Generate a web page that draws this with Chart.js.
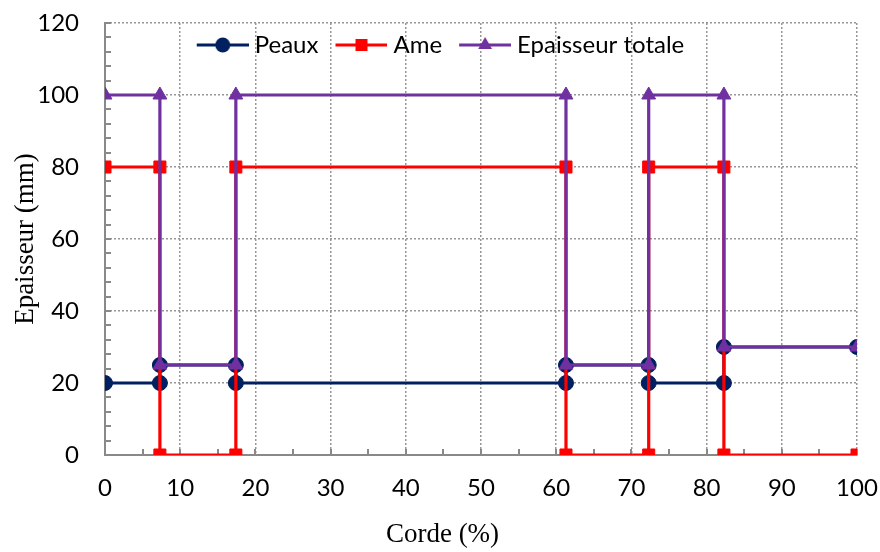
<!DOCTYPE html>
<html lang="fr">
<head>
<meta charset="UTF-8">
<title>Epaisseur le long de la corde</title>
<style>
  html, body { margin: 0; padding: 0; background: #fff; }
  .wrap { position: relative; width: 880px; height: 552px; }
</style>
</head>
<body>
<div class="wrap"><canvas id="chart"></canvas></div>
<script src="https://cdn.jsdelivr.net/npm/chart.js"></script>
<script>
// Données
const corde  = [0, 7.3, 7.3, 17.4, 17.4, 61.3, 61.3, 72.3, 72.3, 82.3, 82.3, 100];
const peaux  = [20, 20, 25, 25, 20, 20, 25, 25, 20, 20, 30, 30];
const ame    = [80, 80, 0, 0, 80, 80, 0, 0, 80, 80, 0, 0];
const totale = [100, 100, 25, 25, 100, 100, 25, 25, 100, 100, 30, 30];
const seriesNames = ['Peaux', 'Ame', 'Epaisseur totale'];

const colors = ['#002060', '#FF0000', '#7030A0'];
const styles = ['circle', 'rect', 'triangle'];
const radii = [7.5, 8.5, 8];

function toPoints(ys) {
  return corde.map((x, i) => ({ x: x, y: ys[i] }));
}

// petit dessin "ligne + marqueur" pour la légende (décalé à droite de 6px)
function legendMark(color, style, r) {
  const c = document.createElement('canvas');
  c.width = 58; c.height = 18;
  const g = c.getContext('2d');
  const cx = 32, cy = 9;
  g.strokeStyle = color; g.fillStyle = color; g.lineWidth = 3;
  g.beginPath(); g.moveTo(6, cy); g.lineTo(58, cy); g.stroke();
  g.beginPath();
  if (style === 'circle') {
    g.arc(cx, cy, r, 0, Math.PI * 2);
  } else if (style === 'rect') {
    const s = r * Math.SQRT1_2;
    g.rect(cx - s, cy - s, 2 * s, 2 * s);
  } else {
    g.moveTo(cx, cy - r);
    g.lineTo(cx + r * Math.sin(Math.PI / 3), cy + r / 2);
    g.lineTo(cx - r * Math.sin(Math.PI / 3), cy + r / 2);
    g.closePath();
  }
  g.fill();
  return c;
}
const marks = colors.map((c, i) => legendMark(c, styles[i], radii[i]));

// petites graduations vers l'intérieur
const minorTicks = {
  id: 'minorTicks',
  beforeDatasetsDraw(chart) {
    const { ctx, chartArea } = chart;
    const xs = chart.scales.x, ys = chart.scales.y;
    ctx.save();
    ctx.strokeStyle = '#898989';
    ctx.lineWidth = 2;
    ctx.beginPath();
    for (let v = 0; v <= 100; v += 5) {
      const px = Math.round(xs.getPixelForValue(v));
      ctx.moveTo(px, chartArea.bottom);
      ctx.lineTo(px, chartArea.bottom - 6);
    }
    for (let v = 0; v <= 120; v += 4) {
      const py = Math.round(ys.getPixelForValue(v));
      ctx.moveTo(chartArea.left, py);
      ctx.lineTo(chartArea.left + 6, py);
    }
    ctx.stroke();
    ctx.restore();
  }
};

// légende posée dans la zone de tracé, titre de l'axe x centré sur toute la figure
const placeBoxes = {
  id: 'placeBoxes',
  beforeLayout(chart) {
    const lg = chart.legend;
    if (lg && !lg._inside) {
      const fit = lg.fit;
      lg.fit = function () { fit.call(this); this.height = 0; };
      lg._inside = true;
    }
  },
  afterLayout(chart) {
    const lg = chart.legend;
    lg.top -= 7;
    lg.bottom = lg.top + 60;
    lg.height = 60;
    lg.left += 12; lg.right += 12;
    const tb = chart.titleBlock;
    tb.left += 14; tb.right += 14;
  }
};

const ctx = document.getElementById('chart').getContext('2d');
new Chart(ctx, {
  type: 'line',
  data: {
    datasets: [peaux, ame, totale].map((ys, i) => ({
      label: seriesNames[i],
      data: toPoints(ys),
      borderColor: colors[i],
      backgroundColor: colors[i],
      borderWidth: 3.2,
      pointStyle: styles[i],
      pointRadius: radii[i],
      pointBorderWidth: 1,
      pointHoverRadius: radii[i],
      tension: 0,
      order: 3 - i
    }))
  },
  options: {
    responsive: true,
    maintainAspectRatio: false,
    animation: false,
    layout: { padding: { top: 23, right: 23, left: 0, bottom: 0 } },
    scales: {
      x: {
        type: 'linear',
        min: 0, max: 100,
        ticks: { stepSize: 10, color: '#000', padding: 2, font: { family: 'Lato', size: 24 } },
        grid: { color: '#969696', lineWidth: 1.5, drawTicks: true, tickLength: 17, tickColor: 'transparent' },
        border: { color: '#898989', width: 2, dash: [2, 2] },
        afterFit(scale) { scale.height = 63.6; }
      },
      y: {
        min: 0, max: 120,
        ticks: { stepSize: 20, color: '#000', padding: 2, font: { family: 'Lato', size: 24 } },
        grid: { color: '#969696', lineWidth: 1.5, drawTicks: true, tickLength: 24, tickColor: 'transparent' },
        border: { color: '#898989', width: 2, dash: [2, 2] },
        title: { display: true, text: 'Epaisseur (mm)', color: '#000',
                 font: { family: 'Liberation Serif', size: 27 }, padding: { top: 10, bottom: 0 } },
        afterFit(scale) { scale.width = 105; }
      }
    },
    plugins: {
      title: {
        display: true,
        position: 'bottom',
        text: 'Corde (%)',
        color: '#000',
        font: { family: 'Liberation Serif', size: 27, weight: 'normal' },
        padding: { top: 0, bottom: 1 }
      },
      legend: {
        position: 'top',
        align: 'center',
        labels: {
          usePointStyle: true,
          pointStyleWidth: 46,
          color: '#000',
          padding: 17,
          font: { family: 'Lato', size: 24 },
          sort: (a, b) => a.datasetIndex - b.datasetIndex,
          generateLabels(ch) {
            const items = Chart.defaults.plugins.legend.labels.generateLabels(ch);
            items.forEach(it => { it.pointStyle = marks[it.datasetIndex]; });
            return items;
          }
        }
      },
      tooltip: { enabled: false }
    }
  },
  plugins: [minorTicks, placeBoxes]
});
</script>
</body>
</html>
